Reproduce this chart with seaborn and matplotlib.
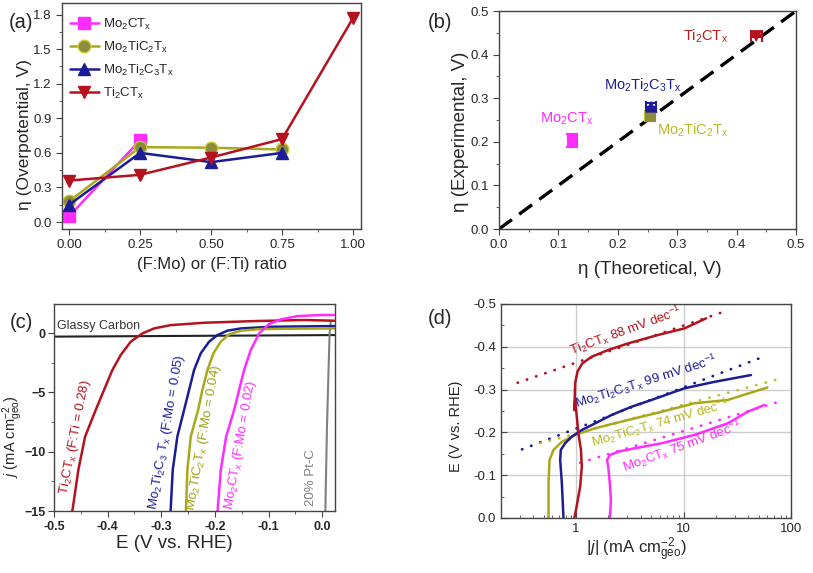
import numpy as np
import pandas as pd
import matplotlib
matplotlib.use("Agg")
import matplotlib.pyplot as plt
import matplotlib.ticker as mticker
import seaborn as sns

sns.set_style("ticks")
plt.rcParams['font.family'] = ['Liberation Sans', 'DejaVu Sans']
plt.rcParams['mathtext.fontset'] = 'custom'
plt.rcParams['mathtext.rm'] = 'Liberation Sans'
plt.rcParams['mathtext.it'] = 'Liberation Sans:italic'
plt.rcParams['mathtext.bf'] = 'Liberation Sans:bold'
plt.rcParams['mathtext.default'] = 'regular'

# ---------------- colours ----------------
C_MAG = '#ff2bff'
C_OLV = '#a8a81c'
C_BLU = '#1c1c96'
C_RED = '#b3121e'
C_GRY = '#808080'

# ---------------- panel (a) data ----------------
frac_a = [0.0, 0.25, 0.5, 0.75, 1.0]
a_mo2ct = [0.05, 0.71]
a_mo2tic2 = [0.18, 0.65, 0.645, 0.63]
a_mo2ti2c3 = [0.15, 0.60, 0.52, 0.60]
a_ti2ct = [0.36, 0.41, 0.56, 0.72, 1.77]
names = ['Mo$_2$CT$_x$', 'Mo$_2$TiC$_2$T$_x$', 'Mo$_2$Ti$_2$C$_3$T$_x$', 'Ti$_2$CT$_x$']

# ---------------- panel (b) data ----------------
b_theo = [0.123, 0.254, 0.256, 0.433]
b_exp = [0.204, 0.259, 0.280, 0.443]
b_xerr = [0.0, 0.008, 0.008, 0.009]
b_yerr = [0.015, 0.012, 0.009, 0.003]
b_diag = [0.0, 0.5]

# ---------------- panel (c) data (E in V, j in mA cm-2) ----------------
c_ti2ct_E = [-0.466, -0.465, -0.4546, -0.442, -0.4223, -0.4067, -0.3912, -0.3756, -0.357,
             -0.3352, -0.3134, -0.2823, -0.220, -0.1269, -0.0336, 0.0224]
c_ti2ct_j = [-15.0, -14.77, -11.54, -8.73, -6.49, -4.80, -3.12, -1.85, -0.73,
             -0.03, 0.39, 0.67, 0.87, 1.01, 1.10, 1.04]
c_mo2ti2c3_E = [-0.2826, -0.2823, -0.2786, -0.270, -0.2575, -0.2481, -0.2388, -0.2264,
                -0.2108, -0.1953, -0.1766, -0.1517, -0.0958, 0.0224]
c_mo2ti2c3_j = [-15.0, -14.77, -11.54, -8.73, -6.49, -4.80, -3.12, -1.71,
                -0.73, -0.17, 0.20, 0.39, 0.53, 0.59]
c_mo2tic2_E = [-0.254, -0.2537, -0.2513, -0.245, -0.2313, -0.2233, -0.2139, -0.2027,
               -0.1891, -0.1735, -0.1517, -0.1144, 0.0224]
c_mo2tic2_j = [-15.0, -14.77, -11.54, -8.73, -6.49, -4.80, -3.12, -1.71,
               -0.73, -0.11, 0.20, 0.34, 0.39]
c_mo2ct_E = [-0.195, -0.1946, -0.189, -0.179, -0.1642, -0.1549, -0.1455, -0.1331, -0.1175,
             -0.0989, -0.0771, -0.046, -0.0025, 0.0224]
c_mo2ct_j = [-15.0, -14.77, -11.54, -8.73, -6.49, -4.80, -3.12, -1.43, -0.03,
             0.76, 1.15, 1.43, 1.52, 1.52]
c_gc_E = [-0.5, 0.024]
c_gc_j = [-0.30, -0.17]
c_pt_E = [0.006, 0.009, 0.012, 0.014, 0.016]
c_pt_j = [-15.0, -8.0, -3.0, 0.0, 0.9]

# ---------------- panel (d) data (|j| in mA cm-2, E in V) ----------------
d_ti2ct_j = [0.964, 1.01, 1.09, 1.13, 1.11, 1.05, 0.98, 0.964, 0.98, 1.03, 1.14, 1.40, 1.99, 3.05, 5.78, 10.2, 16.2]
d_ti2ct_E = [0.0, -0.026, -0.073, -0.12, -0.159, -0.198, -0.2757, -0.252, -0.315, -0.342, -0.361, -0.377, -0.3925, -0.408, -0.4276, -0.443, -0.4665]
d_mo2ti2c3_j = [0.763, 0.737, 0.711, 0.72, 0.79, 0.91, 1.13, 1.50, 2.14, 3.28, 5.02, 10.2, 19.3, 42.4]
d_mo2ti2c3_E = [0.0, -0.081, -0.1355, -0.159, -0.1745, -0.19, -0.2056, -0.221, -0.2407, -0.26, -0.2757, -0.303, -0.318, -0.334]
d_mo2tic2_j = [0.554, 0.554, 0.566, 0.616, 0.737, 0.979, 1.50, 3.05, 6.22, 12.6, 25.7, 60.3]
d_mo2tic2_E = [0.0, -0.081, -0.1355, -0.159, -0.178, -0.194, -0.2096, -0.229, -0.248, -0.268, -0.2757, -0.305]
d_mo2ct_j = [2.06, 2.11, 2.06, 1.99, 1.94, 2.06, 2.46, 3.52, 6.22, 12.6, 25.7, 39.3, 56.4]
d_mo2ct_E = [0.0, -0.042, -0.081, -0.12, -0.1355, -0.147, -0.155, -0.163, -0.1745, -0.194, -0.221, -0.248, -0.264]
fit_ti2ct_j, fit_ti2ct_E = [0.286, 25.7], [-0.316, -0.485]
fit_mo2ti2c3_j, fit_mo2ti2c3_E = [0.314, 50.5], [-0.1605, -0.373]
fit_mo2tic2_j, fit_mo2tic2_E = [0.464, 86.3], [-0.1745, -0.328]
fit_mo2ct_j, fit_mo2ct_E = [1.09, 80.3], [-0.129, -0.273]
tafel_labels = ['Ti$_2$CT$_x$ 88 mV dec$^{-1}$', 'Mo$_2$Ti$_2$C$_3$T$_x$ 99 mV dec$^{-1}$',
                'Mo$_2$TiC$_2$T$_x$ 74 mV dec$^{-1}$', 'Mo$_2$CT$_x$ 75 mV dec$^{-1}$']

W, H = 813, 573
fig = plt.figure(figsize=(W / 100, H / 100), dpi=100)


def add_ax(l, r, t, b):
    return fig.add_axes([l / W, 1 - b / H, (r - l) / W, (b - t) / H])


def style_spines(ax):
    for s in ax.spines.values():
        s.set_color('#444444')
        s.set_linewidth(1.0)
        s.set_visible(True)


def place_label(ax, which, cx, cy):
    """Centre an axis label at figure pixel (cx, cy)."""
    bb = ax.get_position()
    axx = (cx / W - bb.x0) / bb.width
    axy = ((1 - cy / H) - bb.y0) / bb.height
    if which == 'x':
        ax.xaxis.label.set_va('center')
        ax.xaxis.set_label_coords(axx, axy)
    else:
        ax.yaxis.label.set_va('center')
        ax.yaxis.set_label_coords(axx, axy)


# ================= (a) =================
ax = add_ax(62, 361, 3, 229)
style_spines(ax)
series_a = [
    (frac_a[:2], a_mo2ct, C_MAG, 's', C_MAG, C_MAG),
    (frac_a[:4], a_mo2tic2, C_OLV, 'o', '#8c8c3c', '#c8c830'),
    (frac_a[:4], a_mo2ti2c3, C_BLU, '^', C_BLU, C_BLU),
    (frac_a, a_ti2ct, C_RED, 'v', C_RED, C_RED),
]
for (xx, yy, col, mk, fc, ec), nm in zip(series_a, names):
    sns.lineplot(x=xx, y=yy, ax=ax, color=col, marker=mk, markersize=9,
                 markerfacecolor=fc, markeredgecolor=ec, markeredgewidth=1.0,
                 linewidth=1.8, label=nm, sort=False, estimator=None)
ax.set_xlim(-0.025, 1.028)
ax.set_ylim(-0.06, 1.9)
ax.set_xticks([0, 0.25, 0.5, 0.75, 1.0])
ax.set_xticklabels(['0.00', '0.25', '0.50', '0.75', '1.00'])
ax.set_yticks([0, 0.3, 0.6, 0.9, 1.2, 1.5, 1.8])
ax.xaxis.set_minor_locator(mticker.MultipleLocator(0.125))
ax.yaxis.set_minor_locator(mticker.MultipleLocator(0.15))
ax.tick_params(which='both', direction='out', labelsize=9.5, color='#444444')
ax.tick_params(which='major', length=4)
ax.tick_params(which='minor', length=2.5)
ax.set_xlabel('(F:Mo) or (F:Ti) ratio', fontsize=12)
ax.set_ylabel('η (Overpotential, V)', fontsize=12.5)
place_label(ax, 'x', 212, 264)
place_label(ax, 'y', 25, 135)
ax.legend(loc='upper left', bbox_to_anchor=(0.0, 0.975), frameon=False, fontsize=9.5,
          handlelength=2.2, handletextpad=0.3, labelspacing=0.6, borderaxespad=0.2)
fig.text(21 / W, 1 - 22 / H, '(a)', fontsize=14.5, ha='center', va='center')

# ================= (b) =================
ax = add_ax(499, 796, 11, 229)
style_spines(ax)
sns.lineplot(x=b_diag, y=b_diag, ax=ax, color='black', linewidth=2.4, sort=False, estimator=None)
ax.lines[-1].set_dashes([4.8, 2.7])
b_cols = [C_MAG, '#8c8c3c', C_BLU, C_RED]
b_ecols = [C_MAG, '#c8c830', C_BLU, C_RED]
b_marks = ['s', 's', '^', 'v']
for i in range(4):
    ax.errorbar(b_theo[i], b_exp[i], xerr=b_xerr[i] if b_xerr[i] > 0 else None,
                yerr=b_yerr[i], fmt='none', ecolor=b_ecols[i], elinewidth=1.5,
                capsize=4, capthick=1.5, zorder=3)
sns.scatterplot(x=b_theo, y=b_exp, hue=names, palette=b_cols, style=names,
                markers=dict(zip(names, b_marks)), s=55, ax=ax, legend=False,
                edgecolor=b_cols, linewidth=0.8, zorder=4)
ax.set_xlim(0, 0.5)
ax.set_ylim(0, 0.5)
ax.set_xticks(np.arange(0, 0.51, 0.1))
ax.set_yticks(np.arange(0, 0.51, 0.1))
ax.xaxis.set_major_formatter(mticker.FormatStrFormatter('%.1f'))
ax.yaxis.set_major_formatter(mticker.FormatStrFormatter('%.1f'))
ax.xaxis.set_minor_locator(mticker.MultipleLocator(0.05))
ax.yaxis.set_minor_locator(mticker.MultipleLocator(0.05))
ax.tick_params(which='both', direction='out', labelsize=9.5, color='#444444')
ax.tick_params(which='major', length=4)
ax.tick_params(which='minor', length=2.5)
ax.set_xlabel('η (Theoretical, V)', fontsize=13.5)
ax.set_ylabel('η (Experimental, V)', fontsize=13.5)
place_label(ax, 'x', 650, 270)
place_label(ax, 'y', 460, 132)
ax.text(0.347, 0.443, names[3], color='#c01818', fontsize=10.5, ha='center', va='center')
ax.text(0.242, 0.330, names[2], color=C_BLU, fontsize=10.5, ha='center', va='center')
ax.text(0.113, 0.252, names[0], color=C_MAG, fontsize=10.5, ha='center', va='center')
ax.text(0.327, 0.227, names[1], color='#b8b820', fontsize=10.5, ha='center', va='center')
fig.text(440 / W, 1 - 22 / H, '(b)', fontsize=14.5, ha='center', va='center')

# ================= (c) =================
ax = add_ax(54, 335, 304, 511)
style_spines(ax)
sns.lineplot(x=c_gc_E, y=c_gc_j, ax=ax, color='#222222', linewidth=1.5, sort=False, estimator=None)
sns.lineplot(x=c_pt_E, y=c_pt_j, ax=ax, color=C_GRY, linewidth=1.5, sort=False, estimator=None)
for xx, yy, col in [(c_ti2ct_E, c_ti2ct_j, C_RED), (c_mo2ti2c3_E, c_mo2ti2c3_j, C_BLU),
                    (c_mo2tic2_E, c_mo2tic2_j, C_OLV), (c_mo2ct_E, c_mo2ct_j, C_MAG)]:
    sns.lineplot(x=xx, y=yy, ax=ax, color=col, linewidth=1.8, sort=False, estimator=None)
ax.set_xlim(-0.5, 0.024)
ax.set_ylim(-15, 2.45)
ax.set_xticks(np.arange(-0.5, 0.01, 0.1))
ax.xaxis.set_major_formatter(mticker.FuncFormatter(lambda v, p: '%.1f' % (0.0 if abs(v) < 1e-9 else v)))
ax.set_yticks([-15, -10, -5, 0])
ax.xaxis.set_minor_locator(mticker.MultipleLocator(0.05))
ax.yaxis.set_minor_locator(mticker.MultipleLocator(2.5))
ax.tick_params(which='both', direction='out', labelsize=9, color='#444444')
ax.tick_params(which='major', length=4)
ax.tick_params(which='minor', length=2.5)
ax.tick_params(axis='y', pad=2)
for lab in ax.get_xticklabels() + ax.get_yticklabels():
    lab.set_fontweight('bold')
ax.set_xlabel('E (V vs. RHE)', fontsize=13.5)
ax.set_ylabel(r'$\mathit{j}$ (mA cm$^{-2}_{geo}$)', fontsize=10.5)
place_label(ax, 'x', 174, 543)
place_label(ax, 'y', 13, 437)
ax.text(0.011, 0.894, 'Glassy Carbon', transform=ax.transAxes, fontsize=9,
        color='#333333', ha='left', va='center')
ax.text(-0.461, -8.8, 'Ti$_2$CT$_x$ (F:Ti = 0.28)', color=C_RED, fontsize=9.5,
        rotation=79, ha='center', va='center', rotation_mode='anchor')
ax.text(-0.289, -8.35, 'Mo$_2$Ti$_2$C$_3$ T$_x$ (F:Mo = 0.05)', color=C_BLU, fontsize=9.5,
        rotation=80, ha='center', va='center', rotation_mode='anchor')
ax.text(-0.220, -8.8, 'Mo$_2$TiC$_2$T$_x$ (F:Mo = 0.04)', color='#a0a010', fontsize=9.5,
        rotation=80, ha='center', va='center', rotation_mode='anchor')
ax.text(-0.153, -9.4, 'Mo$_2$CT$_x$ (F:Mo = 0.02)', color=C_MAG, fontsize=9.5,
        rotation=80, ha='center', va='center', rotation_mode='anchor')
ax.text(-0.0205, -12.2, '20% Pt-C', color=C_GRY, fontsize=9.5,
        rotation=90, ha='center', va='center', rotation_mode='anchor')
fig.text(21 / W, 1 - 323 / H, '(c)', fontsize=14.5, ha='center', va='center')

# ================= (d) =================
ax = add_ax(501, 791, 304, 518)
style_spines(ax)
ax.set_xscale('log')
ax.grid(True, which='major', color='#cccccc', linewidth=1.0)
ax.set_axisbelow(True)
for xx, yy, col in [(fit_ti2ct_j, fit_ti2ct_E, C_RED), (fit_mo2ti2c3_j, fit_mo2ti2c3_E, C_BLU),
                    (fit_mo2tic2_j, fit_mo2tic2_E, '#c0c030'), (fit_mo2ct_j, fit_mo2ct_E, C_MAG)]:
    sns.lineplot(x=xx, y=yy, ax=ax, color=col, linewidth=2.0, sort=False, estimator=None)
    ax.lines[-1].set_dashes([0.1, 3.4])
    ax.lines[-1].set_dash_capstyle('round')
for xx, yy, col in [(d_mo2tic2_j, d_mo2tic2_E, C_OLV), (d_mo2ti2c3_j, d_mo2ti2c3_E, C_BLU),
                    (d_ti2ct_j, d_ti2ct_E, C_RED), (d_mo2ct_j, d_mo2ct_E, C_MAG)]:
    sns.lineplot(x=xx, y=yy, ax=ax, color=col, linewidth=1.8, sort=False, estimator=None)
ax.set_xlim(0.2, 100)
ax.set_ylim(0.0, -0.5)
ax.set_yticks(np.arange(-0.5, 0.01, 0.1))
ax.yaxis.set_major_formatter(mticker.FuncFormatter(lambda v, p: '%.1f' % (0.0 if abs(v) < 1e-9 else v)))
ax.yaxis.set_minor_locator(mticker.MultipleLocator(0.05))
ax.xaxis.set_major_locator(mticker.LogLocator(base=10))
ax.xaxis.set_major_formatter(mticker.FuncFormatter(lambda v, p: '%g' % v))
ax.xaxis.set_minor_locator(mticker.LogLocator(base=10, subs=np.arange(2, 10)))
ax.xaxis.set_minor_formatter(mticker.NullFormatter())
ax.tick_params(which='both', direction='in', labelsize=9.5, color='#444444')
ax.tick_params(which='major', length=4)
ax.tick_params(which='minor', length=2.5)
ax.set_xlabel(r'|$\mathit{j}$| (mA cm$^{-2}_{geo}$)', fontsize=12)
ax.set_ylabel('E (V vs. RHE)', fontsize=10.5)
place_label(ax, 'x', 636, 550)
place_label(ax, 'y', 456, 426)
ax.text(2.9, -0.437, tafel_labels[0], color=C_RED, fontsize=9.5, rotation=20,
        ha='center', va='center', rotation_mode='anchor')
ax.text(4.45, -0.320, tafel_labels[1], color=C_BLU, fontsize=9.5, rotation=17.5,
        ha='center', va='center', rotation_mode='anchor')
ax.text(6.13, -0.222, tafel_labels[2], color='#b8b820', fontsize=9.5, rotation=16,
        ha='center', va='center', rotation_mode='anchor')
ax.text(9.8, -0.168, tafel_labels[3], color=C_MAG, fontsize=9.5, rotation=20,
        ha='center', va='center', rotation_mode='anchor')
fig.text(440 / W, 1 - 319 / H, '(d)', fontsize=14.5, ha='center', va='center')

fig.savefig('out.png', dpi=100)
